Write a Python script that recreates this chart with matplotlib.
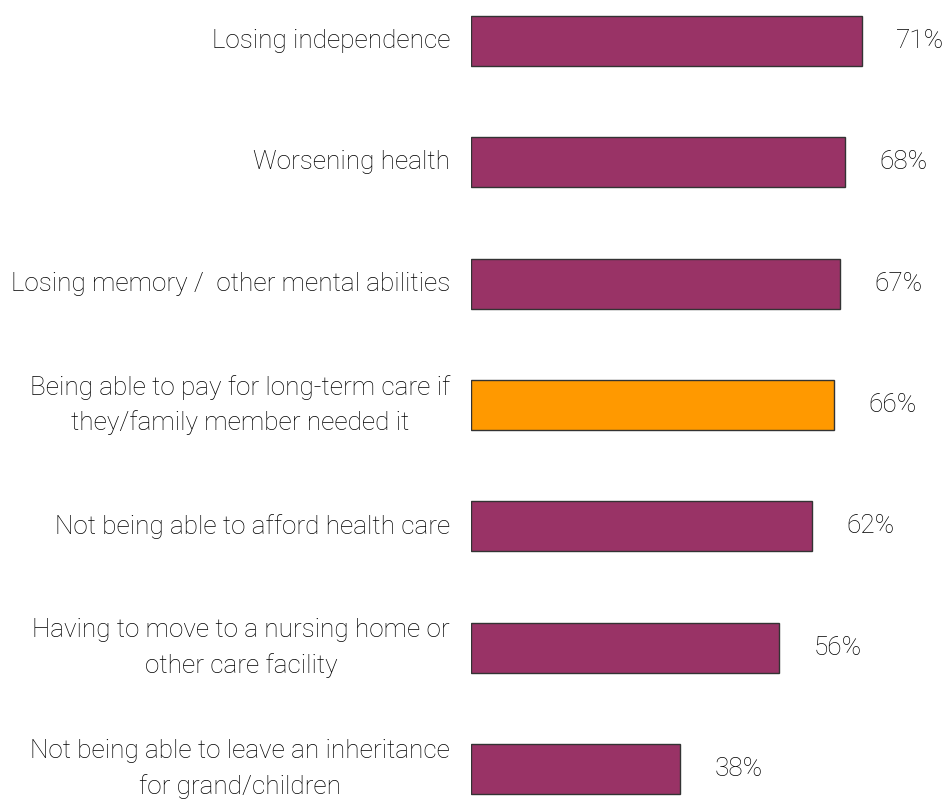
import matplotlib.pyplot as plt

# Share of people worried about each issue
categories = [
    'Losing independence',
    'Worsening health',
    'Losing memory /  other mental abilities',
    'Being able to pay for long-term care if\nthey/family member needed it',
    'Not being able to afford health care',
    'Having to move to a nursing home or\nother care facility',
    'Not being able to leave an inheritance\nfor grand/children',
]
values = [71, 68, 67, 66, 62, 56, 38]
highlight = 3  # long-term care item gets its own colour

purple = '#993366'
orange = '#FF9900'
colors = [orange if i == highlight else purple for i in range(len(values))]

plt.rcParams['font.family'] = ['Roboto', 'DejaVu Sans']
plt.rcParams['font.weight'] = 'light'

fig = plt.figure(figsize=(9.47, 8.02), dpi=100)
ax = fig.add_axes([471 / 947, 0, 1 - 471 / 947, 1])

ypos = list(range(len(values)))
ax.barh(ypos, values, height=0.412, color=colors, edgecolor='#333333', linewidth=1)

ax.set_xlim(0, 476 / 5.507)
ax.set_ylim(6 + 33 / 121.33, -41 / 121.33)
ax.axis('off')

for y, label, v in zip(ypos, categories, values):
    ax.annotate(label, xy=(0, y), xytext=(-21, 0), textcoords='offset pixels',
                ha='right', va='center', multialignment='center',
                fontsize=18.8, color='#000000', linespacing=1.55)
    ax.annotate('%d%%' % v, xy=(v, y), xytext=(34, 0), textcoords='offset pixels',
                ha='left', va='center', fontsize=18.8, color='#000000')

plt.savefig('out.png', dpi=100)
